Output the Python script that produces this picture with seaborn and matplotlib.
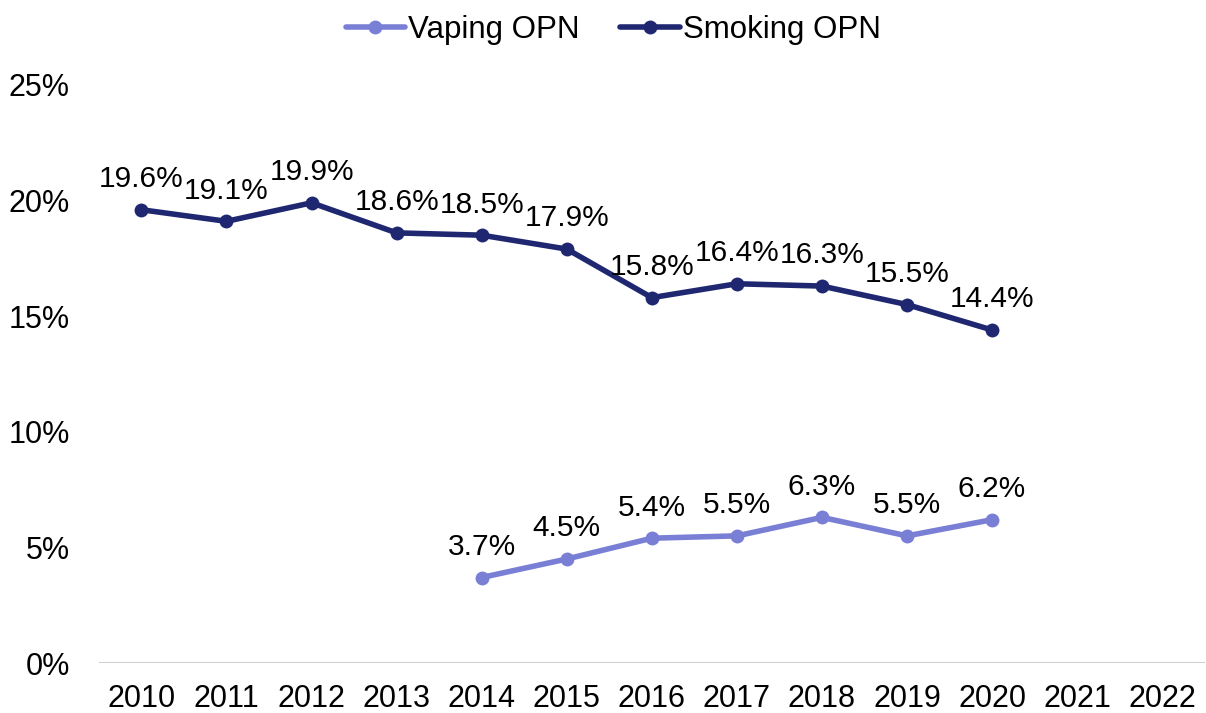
import matplotlib
matplotlib.use("Agg")
import matplotlib.pyplot as plt
import seaborn as sns
import pandas as pd

years = list(range(2010, 2023))
smoking_years = list(range(2010, 2021))
smoking = [19.6, 19.1, 19.9, 18.6, 18.5, 17.9, 15.8, 16.4, 16.3, 15.5, 14.4]
vaping_years = list(range(2014, 2021))
vaping = [3.7, 4.5, 5.4, 5.5, 6.3, 5.5, 6.2]

df = pd.concat([
    pd.DataFrame({"Year": vaping_years, "Value": vaping, "Series": "Vaping OPN"}),
    pd.DataFrame({"Year": smoking_years, "Value": smoking, "Series": "Smoking OPN"}),
])

sns.set_theme(style="white")
plt.rcParams["font.family"] = ["Liberation Sans", "DejaVu Sans"]
plt.rcParams["text.color"] = "black"

fig = plt.figure(figsize=(12.06, 7.13), dpi=100)
ax = fig.add_axes([0.082, 0.070, 0.917, 0.811])

palette = {"Vaping OPN": "#7a7fd6", "Smoking OPN": "#1f2770"}
sns.lineplot(data=df, x="Year", y="Value", hue="Series", palette=palette,
             marker="o", markersize=10, markeredgewidth=0, linewidth=4, ax=ax)

for series, xs, ys in [("Vaping OPN", vaping_years, vaping), ("Smoking OPN", smoking_years, smoking)]:
    for x, y in zip(xs, ys):
        ax.annotate(f"{y:.1f}%", (x, y), xytext=(0, 12), textcoords="offset points",
                    ha="center", va="bottom", fontsize=21.5, color="black")

ax.set_xlim(2009.5, 2022.5)
ax.set_ylim(0, 25)
ax.set_xticks(years)
ax.set_xticklabels([str(y) for y in years])
ax.set_yticks([0, 5, 10, 15, 20, 25])
ax.set_yticklabels([f"{v}%" for v in [0, 5, 10, 15, 20, 25]])
ax.tick_params(axis="both", labelsize=22, length=0, colors="black")
ax.tick_params(axis="x", pad=15)
ax.tick_params(axis="y", pad=21)
ax.set_xlabel("")
ax.set_ylabel("")
for s in ax.spines.values():
    s.set_visible(False)
ax.axhline(0, color="#d0d0d0", linewidth=1.5, zorder=0)

leg = ax.legend(loc="upper center", bbox_to_anchor=(0.465, 1.17), ncol=2, frameon=False,
                fontsize=22.5, handlelength=1.9, handletextpad=0.1, columnspacing=1.3)
for t in leg.get_texts():
    t.set_color("black")

fig.savefig("out.png", dpi=100)
